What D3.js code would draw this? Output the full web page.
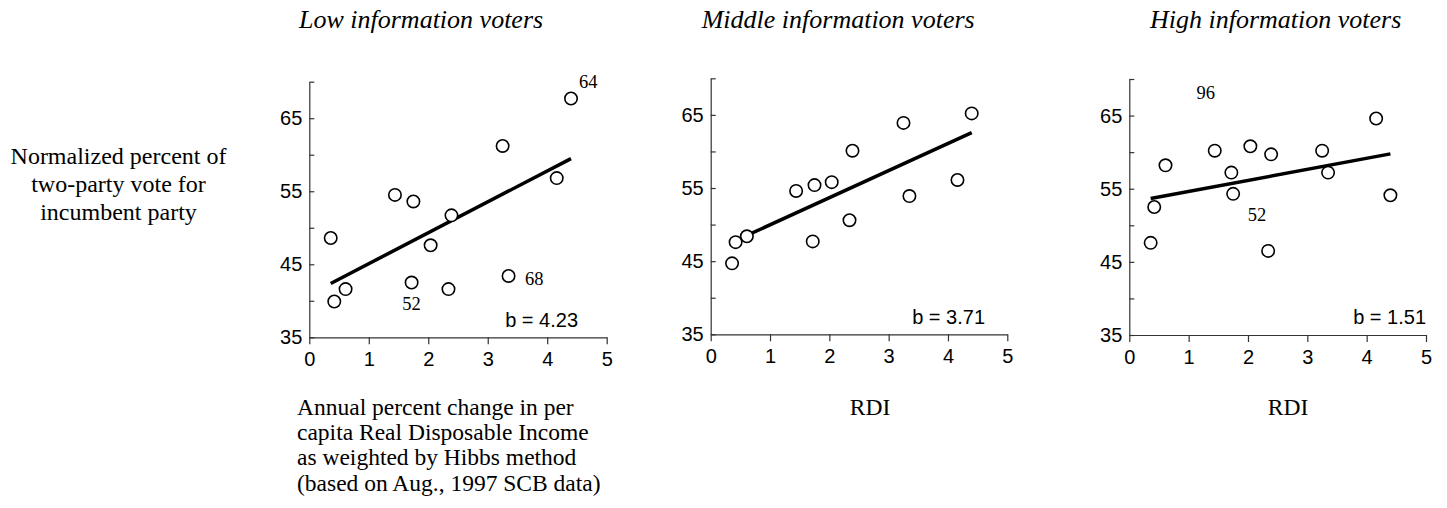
<!DOCTYPE html>
<html><head><meta charset="utf-8">
<script src="https://cdn.jsdelivr.net/npm/d3@7"></script>
<style>body{margin:0;background:#fff}svg{display:block}</style>
</head><body>
<svg id="c" width="1447" height="508"></svg>
<script>
// ---- data ----
const panelTitles = ["Low information voters", "Middle information voters", "High information voters"];
const rdi = [0.36, 0.42, 0.61, 1.44, 1.72, 1.75, 2.04, 2.34, 2.39, 3.25, 3.35, 4.16, 4.40];
const lowVote = [48.6, 39.9, 41.6, 54.5, 42.5, 53.6, 47.6, 41.6, 51.7, 61.2, 43.4, 56.8, 67.7];
const midVote = [44.7, 47.6, 48.4, 54.6, 47.7, 55.4, 55.8, 50.6, 60.1, 63.9, 53.9, 56.1, 65.2];
const highVote = [47.6, 52.5, 58.2, 60.2, 57.2, 54.3, 60.8, 46.5, 59.7, 60.2, 57.2, 64.6, 54.1];
const slopes = [4.23, 3.71, 1.51];
const intercepts = [40.85, 46.26, 53.12];
const xTicks = [0, 1, 2, 3, 4, 5];
const yTicks = [35, 40, 45, 50, 55, 60, 65, 70];
const yTickLabels = [35, 45, 55, 65];
const pointLabels = [
  [{t: "64", x: 4.69, y: 70.0}, {t: "68", x: 3.78, y: 43.05}, {t: "52", x: 1.72, y: 39.6}],
  [],
  [{t: "96", x: 1.29, y: 68.2}, {t: "52", x: 2.15, y: 51.5}]
];
const yLabelLines = ["Normalized percent of", "two-party vote for", "incumbent party"];
const xLabelLines = [
  ["Annual percent change in per", "capita Real Disposable Income", "as weighted by Hibbs method", "(based on Aug., 1997 SCB data)"],
  ["RDI"],
  ["RDI"]
];

// ---- layout ----
const series = [lowVote, midVote, highVote];
const frames = [
  {x0: 309.3, x1: 606.7, yb: 337.3, yt: 81.7, titleX: 299, bEnd: 578, xlab: {x: 297, anchor: "start"}},
  {x0: 710.7, x1: 1007.3, yb: 334.3, yt: 78.3, titleX: 701.7, bEnd: 985, xlab: {x: 870, anchor: "middle"}},
  {x0: 1129.3, x1: 1426, yb: 335, yt: 79, titleX: 1150, bEnd: 1426, xlab: {x: 1288, anchor: "middle"}}
];
const serif = "'Liberation Serif','Times New Roman',serif";
const sans = "'Liberation Sans',Arial,sans-serif";

const svg = d3.select("#c");

// y-axis label (shared)
const yl = svg.append("text").attr("font-family", serif).attr("font-size", 24)
  .attr("text-anchor", "middle").attr("fill", "#000");
yLabelLines.forEach((l, i) => yl.append("tspan").attr("x", 118.5).attr("y", 163.5 + i * 28).text(l));

frames.forEach((f, p) => {
  const x = d3.scaleLinear().domain([0, 5]).range([f.x0, f.x1]);
  const y = d3.scaleLinear().domain([35, 70]).range([f.yb, f.yt]);
  const g = svg.append("g");

  // title
  g.append("text").attr("x", f.titleX).attr("y", 28)
    .attr("font-family", serif).attr("font-style", "italic").attr("font-size", 26)
    .attr("fill", "#000").text(panelTitles[p]);

  // x axis
  const xa = g.append("g").attr("transform", `translate(0,${f.yb})`)
    .call(d3.axisBottom(x).tickValues(xTicks).tickSize(7).tickSizeOuter(0).tickPadding(8).tickFormat(d3.format("d")));
  // y axis (ticks pointing inward)
  const ya = g.append("g").attr("transform", `translate(${f.x0},0)`)
    .call(d3.axisRight(y).tickValues(yTicks).tickSize(5).tickSizeOuter(0).tickFormat(""));
  [xa, ya].forEach(a => {
    a.select(".domain").attr("stroke", "#333").attr("stroke-width", 1.2);
    a.selectAll(".tick line").attr("stroke", "#333").attr("stroke-width", 1.2);
  });
  xa.selectAll(".tick text").attr("font-family", sans).attr("font-size", 20).attr("fill", "#000");
  // y tick labels
  g.selectAll(".ylab").data(yTickLabels).join("text")
    .attr("x", f.x0 - 7).attr("y", d => y(d)).attr("dy", "0.35em")
    .attr("text-anchor", "end").attr("font-family", sans).attr("font-size", 20).attr("fill", "#000")
    .text(d => d);

  // regression line over data range
  const xr = d3.extent(rdi);
  g.append("line")
    .attr("x1", x(xr[0])).attr("y1", y(intercepts[p] + slopes[p] * xr[0]))
    .attr("x2", x(xr[1])).attr("y2", y(intercepts[p] + slopes[p] * xr[1]))
    .attr("stroke", "#000").attr("stroke-width", 3.5);

  // points
  g.selectAll("circle").data(rdi.map((d, i) => [d, series[p][i]])).join("circle")
    .attr("cx", d => x(d[0])).attr("cy", d => y(d[1])).attr("r", 6.2)
    .attr("fill", "#fff").attr("stroke", "#000").attr("stroke-width", 1.6);

  // point labels
  g.selectAll(".pl").data(pointLabels[p]).join("text")
    .attr("x", d => x(d.x)).attr("y", d => y(d.y)).attr("dy", "0.35em")
    .attr("text-anchor", "middle").attr("font-family", serif).attr("font-size", 18.5).attr("fill", "#000")
    .text(d => d.t);

  // slope annotation
  g.append("text").attr("x", f.bEnd).attr("y", f.yb - 10.6)
    .attr("text-anchor", "end").attr("font-family", sans).attr("font-size", 20).attr("fill", "#000")
    .text("b = " + slopes[p].toFixed(2));

  // x-axis label
  const xl = g.append("text").attr("font-family", serif).attr("font-size", 23.5)
    .attr("text-anchor", f.xlab.anchor).attr("fill", "#000");
  xLabelLines[p].forEach((l, i) => xl.append("tspan").attr("x", f.xlab.x).attr("y", 415 + i * 25.2).text(l));
});
</script>
</body></html>
